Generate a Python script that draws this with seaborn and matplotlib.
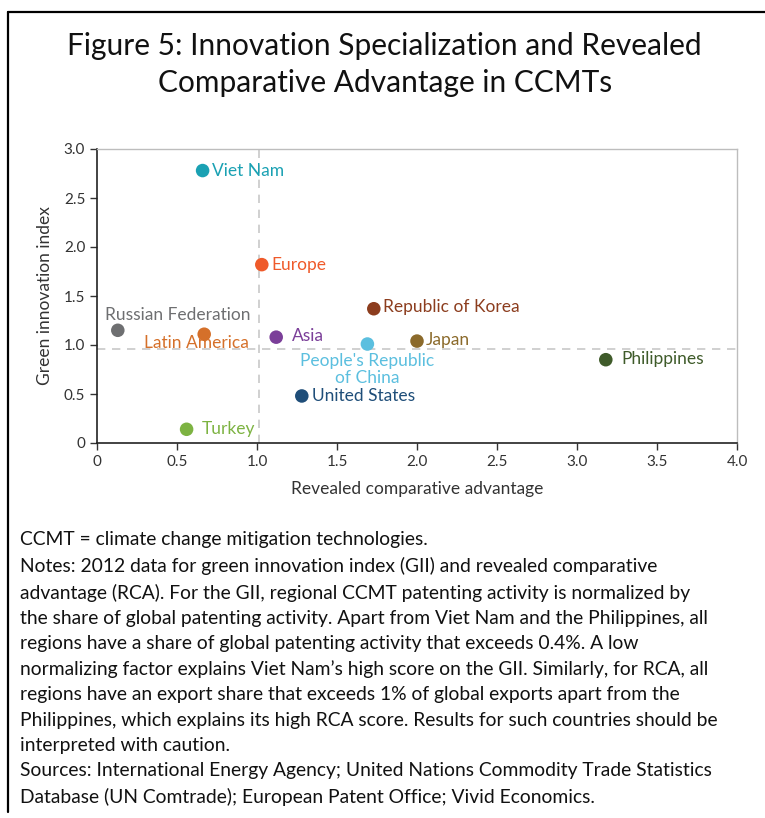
import matplotlib
matplotlib.use("Agg")
import matplotlib.pyplot as plt
import seaborn as sns
import pandas as pd
from matplotlib.lines import Line2D

# DATA ----
regions = ["Viet Nam", "Europe", "Russian Federation", "Latin America", "Asia",
           "Republic of Korea", "People's Republic\nof China", "Japan",
           "Philippines", "United States", "Turkey"]
rca = [0.66, 1.03, 0.13, 0.67, 1.12, 1.73, 1.69, 2.00, 3.18, 1.28, 0.56]
gii = [2.78, 1.82, 1.15, 1.11, 1.08, 1.37, 1.01, 1.04, 0.85, 0.48, 0.14]
colors = ["#1aa1b3", "#ef5a2a", "#6e6f71", "#d5702a", "#7b3f99",
          "#8c3d1e", "#5bbfdf", "#8b6a2b", "#3f5b2a", "#1f4e79", "#7db342"]
x_ticks = [0, 0.5, 1.0, 1.5, 2.0, 2.5, 3.0, 3.5, 4.0]
x_tick_labels = ["0", "0.5", "1.0", "1.5", "2.0", "2.5", "3.0", "3.5", "4.0"]
y_ticks = [0, 0.5, 1.0, 1.5, 2.0, 2.5, 3.0]
y_tick_labels = ["0", "0.5", "1.0", "1.5", "2.0", "2.5", "3.0"]
rca_ref = 1.01
gii_ref = 0.96

notes = [
    "CCMT = climate change mitigation technologies.",
    "Notes: 2012 data for green innovation index (GII) and revealed comparative",
    "advantage (RCA). For the GII, regional CCMT patenting activity is normalized by",
    "the share of global patenting activity. Apart from Viet Nam and the Philippines, all",
    "regions have a share of global patenting activity that exceeds 0.4%. A low",
    "normalizing factor explains Viet Nam\u2019s high score on the GII. Similarly, for RCA, all",
    "regions have an export share that exceeds 1% of global exports apart from the",
    "Philippines, which explains its high RCA score. Results for such countries should be",
    "interpreted with caution.",
    "Sources: International Energy Agency; United Nations Commodity Trade Statistics",
    "Database (UN Comtrade); European Patent Office; Vivid Economics.",
]

df = pd.DataFrame({"Region": regions, "RCA": rca, "GII": gii})
palette = dict(zip(regions, colors))

# label offsets in pixels (dx, dy, ha, va)
label_pos = {
    "Viet Nam": (9, 0, "left", "center"),
    "Europe": (10, 0, "left", "center"),
    "Russian Federation": (-13, 15, "left", "center"),
    "Latin America": (45, -9, "right", "center"),
    "Asia": (16, 1, "left", "center"),
    "Republic of Korea": (9, 2, "left", "center"),
    "People's Republic\nof China": (0, -9, "center", "top"),
    "Japan": (9, 1, "left", "center"),
    "Philippines": (16, 1, "left", "center"),
    "United States": (10, 0, "left", "center"),
    "Turkey": (15, 0, "left", "center"),
}

sns.set_style("ticks")
plt.rcParams["font.family"] = ["Lato", "DejaVu Sans"]

fig = plt.figure(figsize=(7.65, 8.18), dpi=100)
ax = fig.add_axes([97 / 765, 1 - 443 / 818, 640 / 765, 294 / 818])

ax.axvline(rca_ref, color="#c8c8c8", lw=1.2, ls=(0, (5, 4)), zorder=1)
ax.axhline(gii_ref, color="#c8c8c8", lw=1.2, ls=(0, (5, 4)), zorder=1)

sns.scatterplot(data=df, x="RCA", y="GII", hue="Region", palette=palette,
                s=95, edgecolor="none", legend=False, ax=ax, zorder=3)

for r, x, y, c in zip(regions, rca, gii, colors):
    dx, dy, ha, va = label_pos[r]
    ax.annotate(r, (x, y), xytext=(dx, dy), textcoords="offset pixels",
                ha=ha, va=va, color=c, fontsize=12.5, linespacing=1.1)

ax.set_xlim(0, 4.0)
ax.set_ylim(0, 3.0)
ax.set_xticks(x_ticks)
ax.set_xticklabels(x_tick_labels)
ax.set_yticks(y_ticks)
ax.set_yticklabels(y_tick_labels)
ax.tick_params(labelsize=11, colors="#333333", length=5, width=1)
for s in ["left", "bottom"]:
    ax.spines[s].set_color("#222222")
    ax.spines[s].set_linewidth(1.2)
for s in ["top", "right"]:
    ax.spines[s].set_color("#bdbdbd")
    ax.spines[s].set_linewidth(1.0)
ax.set_xlabel("Revealed comparative advantage", fontsize=12.5, color="#333333", labelpad=9)
ax.set_ylabel("Green innovation index", fontsize=12.5, color="#333333", labelpad=8)

fig.text(0.503, 1 - 64.5 / 818,
         "Figure 5: Innovation Specialization and Revealed\nComparative Advantage in CCMTs",
         ha="center", va="center", fontsize=21.5, color="#111111", linespacing=1.4)

fig.text(20 / 765, 1 - 531 / 818, "\n".join(notes), ha="left", va="top",
         fontsize=13.9, color="#111111", linespacing=1.58)

# frame
fig.add_artist(Line2D([8 / 765, 8 / 765], [1 - 12 / 818, 1 - 812 / 818],
                      transform=fig.transFigure, color="black", lw=1.6))
fig.add_artist(Line2D([8 / 765, 1.0], [1 - 12 / 818, 1 - 12 / 818],
                      transform=fig.transFigure, color="black", lw=1.6))

fig.savefig("out.png", dpi=100, facecolor="white")
